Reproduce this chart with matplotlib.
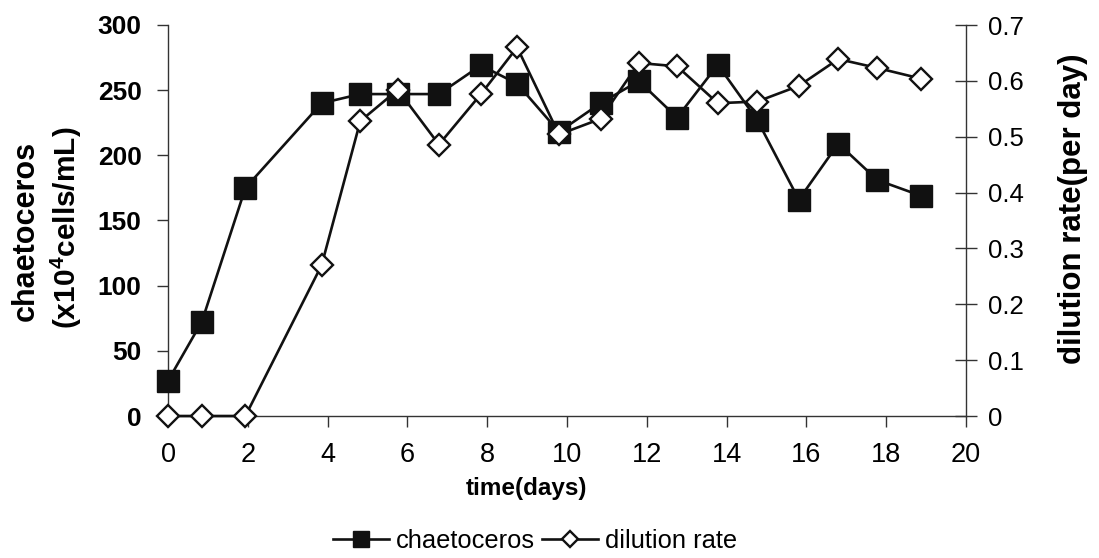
import matplotlib
matplotlib.use("Agg")
import matplotlib.pyplot as plt
from matplotlib.lines import Line2D

# Sampling days (shared by both series)
days = [0, 0.85, 1.94, 3.85, 4.82, 5.76, 6.79, 7.84, 8.75, 9.8, 10.84,
        11.8, 12.76, 13.78, 14.77, 15.81, 16.8, 17.78, 18.87]

# Cell density, x10^4 cells/mL
chaetoceros = [27, 72.5, 175, 240, 247, 247, 247, 269, 255, 218, 240,
               257, 229, 269.5, 227, 166, 209, 181, 169]

# Dilution rate, per day
dilution_rate = [0, 0, 0, 0.27, 0.528, 0.584, 0.486, 0.576, 0.66, 0.504, 0.532,
                 0.632, 0.626, 0.56, 0.563, 0.591, 0.639, 0.623, 0.604]

x_ticks = [0, 2, 4, 6, 8, 10, 12, 14, 16, 18, 20]
left_ticks = [0, 50, 100, 150, 200, 250, 300]
right_ticks = [0, 0.1, 0.2, 0.3, 0.4, 0.5, 0.6, 0.7]

plt.rcParams["font.family"] = ["Liberation Sans", "DejaVu Sans"]
plt.rcParams["mathtext.default"] = "regular"

W, H = 1099, 558
fig = plt.figure(figsize=(W / 100, H / 100), dpi=100)
ax = fig.add_axes([168 / W, 1 - 416 / H, (966 - 168) / W, (416 - 25) / H])
ax2 = ax.twinx()

spine_col = "#333333"
line_col = "#111111"

ax.plot(days, chaetoceros, color=line_col, lw=1.9, marker="s", ms=16,
        mfc=line_col, mec=line_col, clip_on=False, zorder=3)
ax2.plot(days, dilution_rate, color=line_col, lw=1.9, marker="D", ms=11.5,
         mfc="white", mec=line_col, mew=1.7, clip_on=False, zorder=3)

ax.set_xlim(0, 20)
ax.set_ylim(0, 300)
ax2.set_ylim(0, 0.7 * 391 / 393)

for a in (ax, ax2):
    a.spines["top"].set_visible(False)
    for s in a.spines.values():
        s.set_color(spine_col)
        s.set_linewidth(1.0)
ax.spines["right"].set_visible(False)
ax2.spines["left"].set_visible(False)
ax2.spines["bottom"].set_visible(False)

ax.set_xticks(x_ticks)
ax.set_xticklabels([str(t) for t in x_ticks], fontsize=19.5)
ax.tick_params(axis="x", direction="out", length=8, width=1, color=spine_col, pad=11)

ax.set_yticks(left_ticks)
ax.set_yticklabels([str(t) for t in left_ticks], fontsize=19, fontweight="bold")
ax.tick_params(axis="y", direction="out", length=8, width=1, color=spine_col, pad=11)

ax2.set_yticks(right_ticks)
ax2.set_yticklabels(["0"] + [f"{t:.1f}" for t in right_ticks[1:]], fontsize=18.5)
ax2.tick_params(axis="y", direction="inout", length=16, width=1, color=spine_col, pad=8)

# Axis titles
fig.text(26 / W, 1 - 231 / H, "chaetoceros", rotation=90, ha="center", va="center",
         fontsize=22, fontweight="bold")
fig.text(66 / W, 1 - 228 / H, "(x10$^4$cells/mL)", rotation=90, ha="center", va="center",
         fontsize=21.5, fontweight="bold")
fig.text(1073 / W, 1 - 209 / H, "dilution rate(per day)", rotation=90, ha="center",
         va="center", fontsize=22.5, fontweight="bold")
fig.text(527 / W, 1 - 488 / H, "time(days)", ha="center", va="center",
         fontsize=17.5, fontweight="bold")

handles = [
    Line2D([], [], color=line_col, lw=1.9, marker="s", ms=16, mfc=line_col, mec=line_col),
    Line2D([], [], color=line_col, lw=1.9, marker="D", ms=11.5, mfc="white",
           mec=line_col, mew=1.7),
]
fig.legend(handles, ["chaetoceros", "dilution rate"], loc="center",
           bbox_to_anchor=(535 / W, 1 - 541 / H), ncol=2, frameon=False,
           fontsize=18.4, handlelength=2.2, handletextpad=0.25, columnspacing=0.3,
           markerscale=0.7, borderpad=0, borderaxespad=0)

fig.savefig("out.png", dpi=100, facecolor="white")
